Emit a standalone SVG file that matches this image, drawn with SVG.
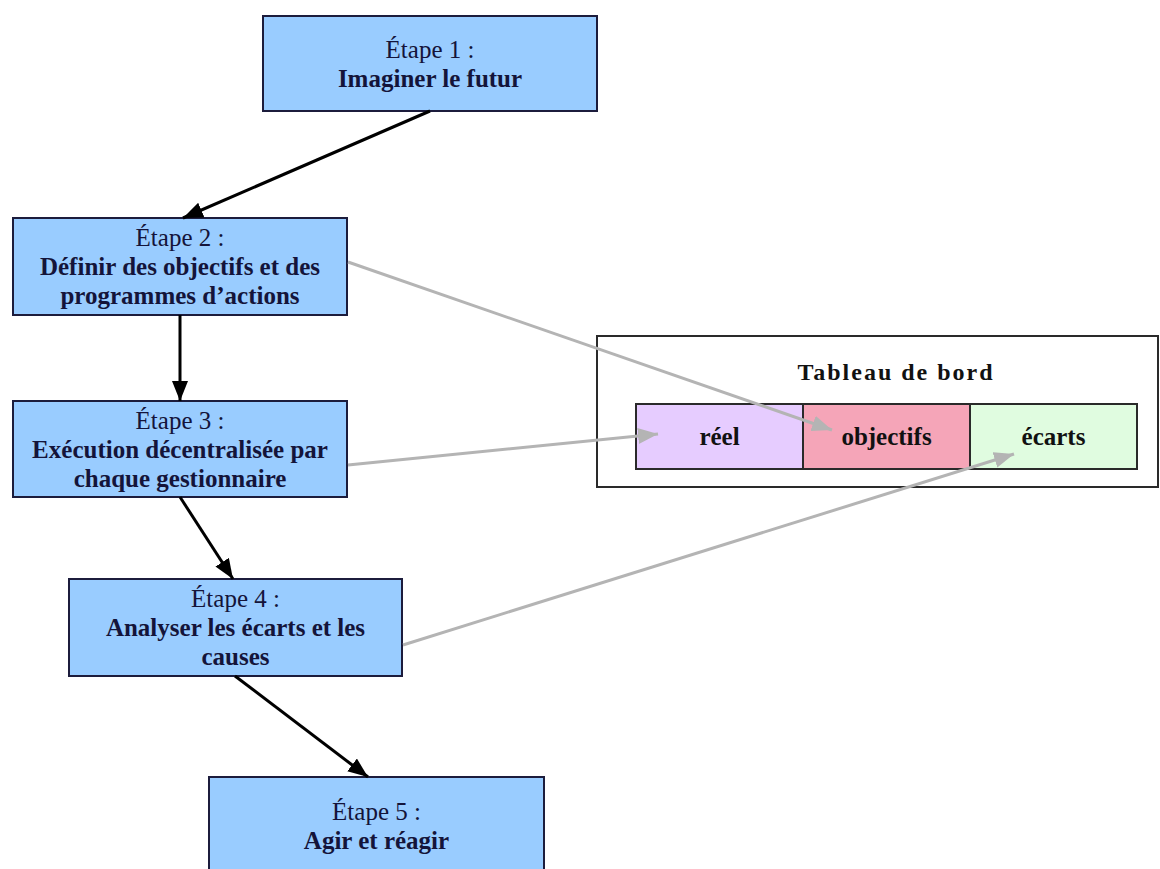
<svg xmlns="http://www.w3.org/2000/svg" width="1160" height="869" viewBox="0 0 1160 869">
<defs>
<style>
.box{fill:#99CCFF;stroke:#1c1c3c;stroke-width:2}
.t{font-family:"Liberation Serif","Times New Roman",serif;font-size:25px;fill:#14143a;text-anchor:middle}
.b{font-weight:bold}
.blk{stroke:#000;stroke-width:3;fill:none}
.gry{stroke:#b4b4b4;stroke-width:3;fill:none}
.cell{stroke:#2a2a2a;stroke-width:2}
.ct{font-family:"Liberation Serif","Times New Roman",serif;font-size:25px;font-weight:bold;fill:#111;text-anchor:middle}
</style>
<marker id="ab" markerUnits="userSpaceOnUse" markerWidth="22" markerHeight="18" refX="20" refY="8" orient="auto">
<path d="M0,0 L20,8 L0,16 z" fill="#000"/>
</marker>
<marker id="ag" markerUnits="userSpaceOnUse" markerWidth="22" markerHeight="18" refX="20" refY="8" orient="auto">
<path d="M0,0 L20,8 L0,16 z" fill="#b4b4b4"/>
</marker>
</defs>
<rect width="1160" height="869" fill="#fff"/>

<g id="step1">
<rect class="box" x="263" y="16" width="334" height="95"/>
<text class="t" x="430" y="58">Étape 1 :</text>
<text class="t b" x="430" y="87">Imaginer le futur</text>
</g>

<g id="step2">
<rect class="box" x="13" y="218" width="334" height="97"/>
<text class="t" x="180" y="246">Étape 2 :</text>
<text class="t b" x="180" y="275">Définir des objectifs et des</text>
<text class="t b" x="180" y="304">programmes d’actions</text>
</g>

<g id="step3">
<rect class="box" x="13" y="401" width="334" height="96"/>
<text class="t" x="180" y="429">Étape 3 :</text>
<text class="t b" x="180" y="458">Exécution décentralisée par</text>
<text class="t b" x="180" y="487">chaque gestionnaire</text>
</g>

<g id="step4">
<rect class="box" x="69" y="579" width="333" height="97"/>
<text class="t" x="235.5" y="607">Étape 4 :</text>
<text class="t b" x="235.5" y="636">Analyser les écarts et les</text>
<text class="t b" x="235.5" y="665">causes</text>
</g>

<g id="step5">
<rect class="box" x="209" y="777" width="335" height="110"/>
<text class="t" x="376.5" y="820">Étape 5 :</text>
<text class="t b" x="376.5" y="849">Agir et réagir</text>
</g>

<g id="tableau">
<rect x="597" y="336" width="561" height="151" fill="#fff" stroke="#2a2a2a" stroke-width="2"/>
<text x="896" y="380" font-family="Liberation Serif,'Times New Roman',serif" font-size="24" font-weight="bold" fill="#111" text-anchor="middle" letter-spacing="2">Tableau de bord</text>
<rect class="cell" x="636" y="404" width="167" height="65" fill="#E6CCFF"/>
<rect class="cell" x="803" y="404" width="167" height="65" fill="#F5A5B8"/>
<rect class="cell" x="970" y="404" width="167" height="65" fill="#E0FCE0"/>
<text class="ct" x="719.5" y="445">réel</text>
<text class="ct" x="886.5" y="445">objectifs</text>
<text class="ct" x="1053.5" y="445">écarts</text>
</g>

<g id="connectors">
<line class="blk" x1="430" y1="111" x2="183" y2="218" marker-end="url(#ab)"/>
<line class="blk" x1="180" y1="315" x2="180" y2="401" marker-end="url(#ab)"/>
<line class="blk" x1="180" y1="497" x2="233" y2="579" stroke-width="2" marker-end="url(#ab)"/>
<line class="blk" x1="235" y1="676" x2="368" y2="777" marker-end="url(#ab)"/>
<line class="gry" x1="348" y1="262" x2="832" y2="430" marker-end="url(#ag)"/>
<line class="gry" x1="348" y1="465" x2="658" y2="434" marker-end="url(#ag)"/>
<line class="gry" x1="403" y1="645" x2="1014" y2="454" marker-end="url(#ag)"/>
</g>
</svg>
